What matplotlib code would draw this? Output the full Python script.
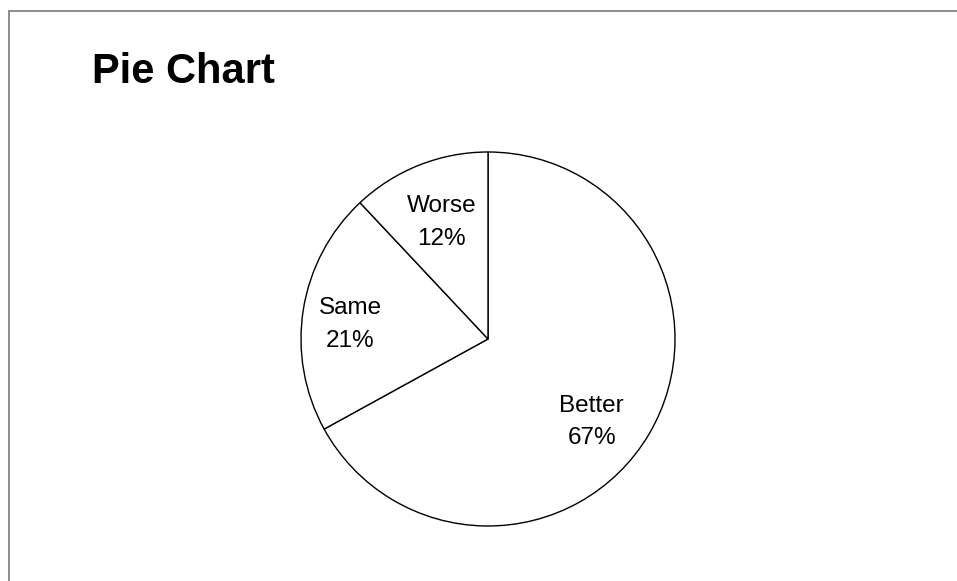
import numpy as np
import matplotlib.pyplot as plt
from matplotlib.lines import Line2D

# slice data, clockwise from 12 o'clock
names = ['Better', 'Same', 'Worse']
shares = [67, 21, 12]
title = 'Pie Chart'

plt.rcParams['font.family'] = ['Liberation Sans', 'DejaVu Sans']

W, H = 957, 581
fig = plt.figure(figsize=(W / 100, H / 100), dpi=100)
fig.patch.set_facecolor('white')

# partial grey frame (top and left only visible)
fig.add_artist(Line2D([9 / W, 1], [1 - 11 / H, 1 - 11 / H], color='#8c8c8c', lw=1.4))
fig.add_artist(Line2D([9 / W, 9 / W], [1 - 11 / H, 0], color='#8c8c8c', lw=1.4))

fig.text(92 / W, 1 - 52 / H, title, fontsize=30, fontweight='bold', va='top', ha='left')

cx, cy, r = 488, 339, 187
ax = fig.add_axes([(cx - r) / W, (H - cy - r) / H, 2 * r / W, 2 * r / H])
labels = [f'{n}\n{v}%' for n, v in zip(names, shares)]
wedges, texts = ax.pie(shares, labels=labels, startangle=90, counterclock=False, radius=1,
                       colors=['white'] * len(shares),
                       wedgeprops=dict(edgecolor='black', linewidth=1.0),
                       labeldistance=0.7,
                       textprops=dict(ha='center', va='center', fontsize=17.5, linespacing=1.6))

# excel-ish label placement: nudge each label a little off the bisector
nudge_deg = [-8, 3, 0]
dist = [0.71, 0.74, 0.67]
for w, t, dd, d in zip(wedges, texts, nudge_deg, dist):
    a = np.deg2rad((w.theta1 + w.theta2) / 2 + dd)
    t.set_position((d * np.cos(a), d * np.sin(a)))

ax.set_xlim(-1, 1)
ax.set_ylim(-1, 1)
ax.set_aspect('equal')
ax.axis('off')

fig.savefig('out.png', dpi=100, facecolor='white')
